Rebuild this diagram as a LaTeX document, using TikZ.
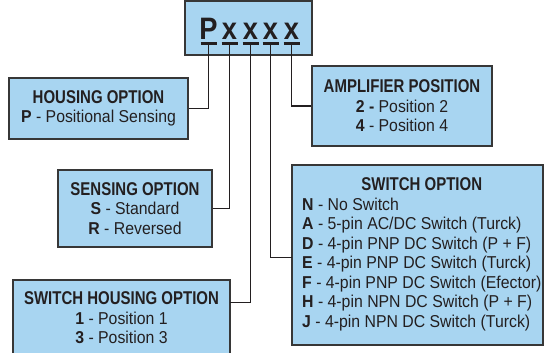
\documentclass[tikz,border=0pt]{standalone}
\usepackage{fontspec}
\setmainfont[FakeStretch=0.92]{Liberation Sans}
\newfontfamily\titlefont[FakeStretch=0.81]{Liberation Sans}
\newfontfamily\bigfont[FakeStretch=0.88]{Liberation Sans}
\definecolor{boxblue}{RGB}{168,213,241}
\definecolor{ink}{RGB}{35,31,32}
\definecolor{edge}{RGB}{55,55,55}
\newcommand\bodysize{\fontsize{17.2}{19.5}\selectfont}
\newcommand\boxtitle[1]{{\titlefont\bfseries\fontsize{18.5}{19.5}\selectfont #1}}
\tikzset{
  infobox/.style={draw=edge, line width=1.2pt, fill=boxblue, inner sep=0pt,
    align=center, text=ink, font=\bodysize},
  conn/.style={draw=ink, line width=1.5pt},
  uline/.style={draw=ink, line width=3pt},
  letter/.style={font=\bigfont\bfseries\fontsize{31}{31}\selectfont, text=ink,
    inner sep=0pt, anchor=base},
}
\begin{document}
\begin{tikzpicture}[x=1pt,y=-1pt]
\useasboundingbox (0,0) rectangle (544,353);
\clip (0,0) rectangle (544,353);

% top code box
\node[infobox, minimum width=127, minimum height=54] (top) at (248.5,28) {};
\node[letter] (L0) at (208.5,40) {P};
\node[letter] (L1) at (229.5,40) {x};
\node[letter] (L2) at (250.5,40) {x};
\node[letter] (L3) at (270.5,40) {x};
\node[letter] (L4) at (291.5,40) {x};
\coordinate (u0) at (208.5,43.5);
\coordinate (u1) at (229.5,43.5);
\coordinate (u2) at (250.5,43.5);
\coordinate (u3) at (270.5,43.5);
\coordinate (u4) at (291.5,43.5);
\foreach \u in {u0,u1,u2,u3,u4}{
  \draw[uline] ([xshift=-8pt]\u) -- ([xshift=8pt]\u);
}

% option boxes
\node[infobox, minimum width=179, minimum height=61] (housing) at (98.5,108.5)
  {\boxtitle{HOUSING OPTION}\\\textbf{P} - Positional Sensing};
\node[infobox, minimum width=154, minimum height=77] (sensing) at (135,208.5)
  {\boxtitle{SENSING OPTION}\\\textbf{S} - Standard\\\textbf{R} - Reversed};
\node[infobox, minimum width=217, minimum height=76] (swhousing) at (121.5,318)
  {\boxtitle{SWITCH HOUSING OPTION}\\\textbf{1} - Position 1\\\textbf{3} - Position 3};
\node[infobox, minimum width=180, minimum height=80] (amp) at (402,106)
  {\boxtitle{AMPLIFIER POSITION}\\\textbf{2 -} Position 2\\\textbf{4} - Position 4};
\node[infobox, minimum width=251, minimum height=180] (switch) at (417.5,255) {};
\node[anchor=north west, inner sep=0pt, text=ink, font=\bodysize] (switchtext) at (302,177)
  {\begin{tabular}{@{}l@{}}
   \multicolumn{1}{@{}c@{}}{\boxtitle{SWITCH OPTION}}\\
   \textbf{N} - No Switch\\
   \textbf{A} - 5-pin AC/DC Switch (Turck)\\
   \textbf{D} - 4-pin PNP DC Switch (P + F)\\
   \textbf{E} - 4-pin PNP DC Switch (Turck)\\
   \textbf{F} - 4-pin PNP DC Switch (Efector)\\
   \textbf{H} - 4-pin NPN DC Switch (P + F)\\
   \textbf{J} - 4-pin NPN DC Switch (Turck)
   \end{tabular}};

% connector end points
\coordinate (swhin) at (230,302.5);
\coordinate (swin) at (292,257.5);

% connectors
\draw[conn] (u0) |- (housing.east);
\draw[conn] (u1) |- (sensing.east);
\draw[conn] (u2) |- (swhin);
\draw[conn] (u3) |- (swin);
\draw[conn] (u4) |- (amp.west);
\end{tikzpicture}
\end{document}
